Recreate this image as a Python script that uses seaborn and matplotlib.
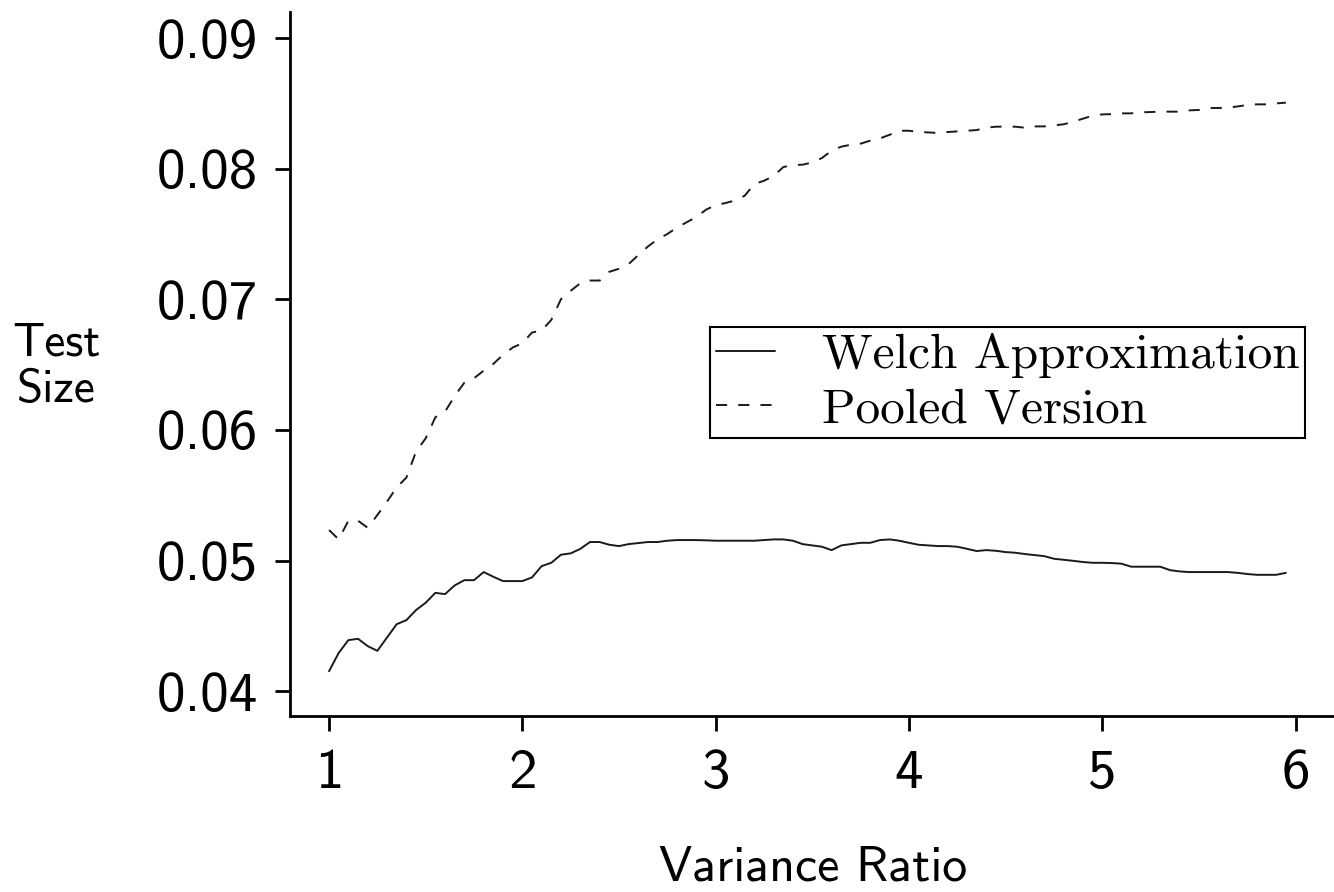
import numpy as np
import pandas as pd
import matplotlib
matplotlib.use("Agg")
import matplotlib.pyplot as plt
import seaborn as sns
from matplotlib.ticker import FixedLocator, FuncFormatter

# variance ratio grid (1.00 .. 5.95 by 0.05)
ratio = np.round(np.linspace(1.0, 5.95, 100), 2)

# test size
welch = [
    0.04153, 0.04293, 0.04391, 0.04401, 0.04345, 0.04309, 0.04411, 0.04513, 0.04544, 0.04621,
    0.04677, 0.04753, 0.04743, 0.04810, 0.04850, 0.04850, 0.04912, 0.04876, 0.04843, 0.04843,
    0.04843, 0.04871, 0.04958, 0.04983, 0.05045, 0.05055, 0.05090, 0.05142, 0.05142, 0.05121,
    0.05111, 0.05126, 0.05134, 0.05142, 0.05142, 0.05152, 0.05157, 0.05157, 0.05157, 0.05155,
    0.05152, 0.05152, 0.05152, 0.05152, 0.05152, 0.05157, 0.05162, 0.05162, 0.05152, 0.05126,
    0.05116, 0.05106, 0.05080, 0.05116, 0.05126, 0.05136, 0.05136, 0.05157, 0.05162, 0.05152,
    0.05136, 0.05121, 0.05116, 0.05111, 0.05111, 0.05106, 0.05090, 0.05073, 0.05080, 0.05075,
    0.05065, 0.05060, 0.05050, 0.05042, 0.05034, 0.05014, 0.05006, 0.04998, 0.04989, 0.04983,
    0.04983, 0.04981, 0.04976, 0.04953, 0.04953, 0.04953, 0.04953, 0.04927, 0.04917, 0.04912,
    0.04912, 0.04912, 0.04912, 0.04912, 0.04906, 0.04897, 0.04891, 0.04891, 0.04891, 0.04906,
]
pooled = [
    0.05234, 0.05162, 0.05305, 0.05305, 0.05251, 0.05349, 0.05451, 0.05561, 0.05635, 0.05834,
    0.05936, 0.06097, 0.06140, 0.06260, 0.06362, 0.06396, 0.06454, 0.06506, 0.06575, 0.06631,
    0.06664, 0.06746, 0.06761, 0.06843, 0.07002, 0.07065, 0.07124, 0.07144, 0.07144, 0.07211,
    0.07234, 0.07270, 0.07339, 0.07405, 0.07460, 0.07500, 0.07550, 0.07590, 0.07630, 0.07686,
    0.07722, 0.07737, 0.07757, 0.07793, 0.07883, 0.07908, 0.07944, 0.08013, 0.08028, 0.08031,
    0.08048, 0.08082, 0.08138, 0.08169, 0.08184, 0.08192, 0.08215, 0.08232, 0.08260, 0.08291,
    0.08291, 0.08281, 0.08278, 0.08274, 0.08281, 0.08286, 0.08291, 0.08296, 0.08314, 0.08322,
    0.08322, 0.08322, 0.08314, 0.08324, 0.08324, 0.08332, 0.08340, 0.08360, 0.08383, 0.08406,
    0.08416, 0.08418, 0.08424, 0.08424, 0.08432, 0.08434, 0.08437, 0.08437, 0.08437, 0.08447,
    0.08450, 0.08465, 0.08465, 0.08467, 0.08477, 0.08488, 0.08493, 0.08493, 0.08500, 0.08506,
]
x_ticks = [1, 2, 3, 4, 5, 6]
y_ticks = [0.04, 0.05, 0.06, 0.07, 0.08, 0.09]
legend_labels = ["Welch Approximation", "Pooled Version"]

df = pd.DataFrame({"ratio": ratio, "welch": welch, "pooled": pooled})

sns.set_theme(style="ticks")
plt.rcParams["font.family"] = ["cmss10", "DejaVu Sans"]
plt.rcParams["axes.formatter.use_mathtext"] = False
plt.rcParams["text.color"] = "black"
plt.rcParams["lines.scale_dashes"] = False

fig = plt.figure(figsize=(13.34, 8.92), dpi=100)
ax = fig.add_axes([290/1334, 176/892, 1044/1334, 704/892])

sns.lineplot(data=df, x="ratio", y="welch", ax=ax, color="#1a1a1a", lw=1.4,
             label=legend_labels[0])
sns.lineplot(data=df, x="ratio", y="pooled", ax=ax, color="#1a1a1a", lw=1.4,
             dashes=(8, 8), label=legend_labels[1])

ax.set_xlim(0.798, 6.199)
ax.set_ylim(0.0381, 0.0920)
ax.xaxis.set_major_locator(FixedLocator(x_ticks))
ax.yaxis.set_major_locator(FixedLocator(y_ticks))
ax.xaxis.set_major_formatter(FuncFormatter(lambda v, p: "%d" % v))
ax.yaxis.set_major_formatter(FuncFormatter(lambda v, p: "%.2f" % v))
ax.tick_params(axis="both", length=11, width=2, color="black", labelsize=41,
               labelcolor="black")
ax.tick_params(axis="y", pad=12)
ax.tick_params(axis="x", pad=13)
sns.despine(ax=ax)
for s in ["left", "bottom"]:
    ax.spines[s].set_linewidth(2)
    ax.spines[s].set_color("black")
ax.set_xlabel("")
ax.set_ylabel("")

fig.text(813/1334, 1 - 868/892, "Variance Ratio", fontsize=36,
         ha="center", va="center")
fig.text(56/1334, 1 - 367/892, "Test\nSize", fontsize=34,
         ha="center", va="center", linespacing=1.15)

leg = ax.legend(loc="upper left", bbox_to_anchor=(710/1334, 1 - 327/892),
                bbox_transform=fig.transFigure, frameon=True,
                prop={"family": "cmr10", "size": 35.5},
                fancybox=False, handlelength=1.2, handletextpad=0.95,
                borderpad=0.12, labelspacing=0.2, borderaxespad=0)
leg.get_frame().set_edgecolor("black")
leg.get_frame().set_linewidth(1.5)
leg.get_frame().set_alpha(1)

fig.savefig("out.png", dpi=100)
